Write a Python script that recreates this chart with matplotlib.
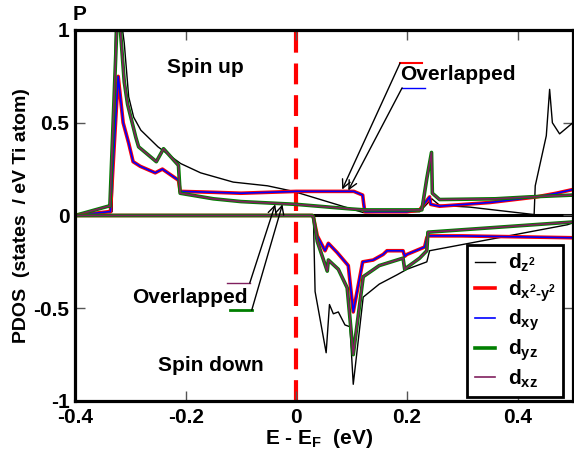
import matplotlib
matplotlib.use('Agg')
import matplotlib.pyplot as plt
from matplotlib.lines import Line2D

plt.rcParams['font.family'] = ['Liberation Sans', 'DejaVu Sans']
plt.rcParams['font.weight'] = 'bold'
plt.rcParams['axes.labelweight'] = 'bold'
plt.rcParams['font.size'] = 15
plt.rcParams['mathtext.fontset'] = 'custom'
plt.rcParams['mathtext.rm'] = 'Liberation Sans:bold'
plt.rcParams['mathtext.bf'] = 'Liberation Sans:bold'
plt.rcParams['mathtext.it'] = 'Liberation Sans:bold'

# ---- spin up ----
# d_x2-y2 and d_xy overlap
up_xy_x = [-0.4, -0.34, -0.336, -0.322, -0.313, -0.303, -0.295, -0.282, -0.255, -0.242, -0.213,
           -0.21, -0.15, -0.1, 0.0, 0.08, 0.104, 0.12, 0.122, 0.124, 0.2, 0.223, 0.241, 0.243,
           0.259, 0.35, 0.434, 0.47, 0.5]
up_xy_y = [0.0, 0.02, 0.02, 0.75, 0.50, 0.39, 0.29, 0.265, 0.23, 0.25, 0.19,
           0.13, 0.125, 0.12, 0.13, 0.13, 0.13, 0.11, 0.06, 0.02, 0.02, 0.03, 0.10, 0.06,
           0.05, 0.07, 0.10, 0.12, 0.14]
# d_yz and d_xz overlap
up_yz_x = [-0.4, -0.34, -0.337, -0.322, -0.318, -0.311, -0.305, -0.29, -0.285, -0.253, -0.24,
           -0.213, -0.21, -0.15, -0.1, 0.0, 0.1, 0.124, 0.227, 0.236, 0.2445, 0.246, 0.259,
           0.36, 0.42, 0.5]
up_yz_y = [0.0, 0.05, 0.05, 1.2, 1.0, 0.72, 0.60, 0.42, 0.37, 0.29, 0.36,
           0.27, 0.12, 0.09, 0.075, 0.06, 0.035, 0.03, 0.03, 0.20, 0.34, 0.12, 0.086,
           0.09, 0.10, 0.11]
# d_z2
up_z2_x = [-0.4, -0.34, -0.333, -0.325, -0.314, -0.311, -0.303, -0.294, -0.281, -0.25, -0.209,
           -0.173, -0.114, -0.052, -0.005, 0.121, 0.223, 0.245, 0.259, 0.314, 0.43, 0.432,
           0.452, 0.458, 0.463, 0.476, 0.5]
up_z2_y = [0.0, 0.02, 0.02, 1.3, 1.0, 0.93, 0.64, 0.53, 0.46, 0.37, 0.28,
           0.23, 0.18, 0.16, 0.13, 0.016, 0.02, 0.09, 0.055, 0.045, 0.005, 0.16,
           0.43, 0.68, 0.50, 0.44, 0.50]

# ---- spin down ----
dn_xy_x = [-0.4, 0.029, 0.031, 0.038, 0.052, 0.058, 0.074, 0.094, 0.103, 0.12, 0.139, 0.157,
           0.164, 0.193, 0.196, 0.2, 0.232, 0.236, 0.238, 0.3, 0.4, 0.5]
dn_xy_y = [0.0, 0.0, -0.01, -0.11, -0.19, -0.15, -0.20, -0.27, -0.52, -0.25, -0.24, -0.21,
           -0.19, -0.19, -0.22, -0.21, -0.17, -0.12, -0.11, -0.11, -0.115, -0.12]
dn_yz_x = [-0.4, 0.029, 0.031, 0.038, 0.056, 0.058, 0.076, 0.092, 0.103, 0.121, 0.15, 0.193,
           0.196, 0.2, 0.223, 0.236, 0.238, 0.5]
dn_yz_y = [0.0, 0.0, -0.01, -0.14, -0.30, -0.24, -0.29, -0.39, -0.75, -0.33, -0.27, -0.23,
           -0.29, -0.28, -0.23, -0.19, -0.09, -0.035]
dn_z2_x = [-0.4, 0.029, 0.031, 0.034, 0.054, 0.06, 0.067, 0.076, 0.088, 0.097, 0.103, 0.121,
           0.15, 0.182, 0.2, 0.236, 0.241, 0.49, 0.5]
dn_z2_y = [0.0, 0.0, -0.01, -0.41, -0.74, -0.48, -0.53, -0.52, -0.59, -0.60, -0.91, -0.44,
           -0.37, -0.32, -0.29, -0.25, -0.19, -0.05, -0.04]

xticks = [-0.4, -0.2, 0, 0.2, 0.4]
xticklabels = ['-0.4', '-0.2', '0', '0.2', '0.4']
yticks = [-1, -0.5, 0, 0.5, 1]
yticklabels = ['-1', '-0.5', '0', '0.5', '1']

fig = plt.figure(figsize=(5.74, 4.58), dpi=100)
ax = fig.add_axes([0.1307, 0.1245, 0.8673, 0.81])

ax.axvline(0, color='#ff0000', lw=3, ls=(0, (5, 2.6)), zorder=1)
ax.axhline(0, color='black', lw=2.2, zorder=1)

ax.plot(up_z2_x, up_z2_y, color='black', lw=1.0, label=r'$\mathbf{d_{z^2}}$')
ax.plot(up_xy_x, up_xy_y, color='#ff0000', lw=2.6, label=r'$\mathbf{d_{x^2\text{-}y^2}}$')
ax.plot(up_xy_x, up_xy_y, color='#0000ff', lw=1.2, label=r'$\mathbf{d_{xy}}$')
ax.plot(up_yz_x, up_yz_y, color='#007f00', lw=2.6, label=r'$\mathbf{d_{yz}}$')
ax.plot(up_yz_x, up_yz_y, color='#80205f', lw=1.2, label=r'$\mathbf{d_{xz}}$')

ax.plot(dn_z2_x, dn_z2_y, color='black', lw=1.0)
ax.plot(dn_xy_x, dn_xy_y, color='#ff0000', lw=2.6)
ax.plot(dn_xy_x, dn_xy_y, color='#0000ff', lw=1.2)
ax.plot(dn_yz_x, dn_yz_y, color='#007f00', lw=2.6)
ax.plot(dn_yz_x, dn_yz_y, color='#80205f', lw=1.2)

ax.set_xlim(-0.4, 0.5)
ax.set_ylim(-1, 1)
ax.set_xticks(xticks)
ax.set_xticklabels(xticklabels)
ax.set_yticks(yticks)
ax.set_yticklabels(yticklabels)
ax.tick_params(direction='in', length=7, width=1, color='#555555', top=True, right=True)
ax.tick_params(axis='x', pad=5)
ax.tick_params(axis='y', pad=4)
for s in ax.spines.values():
    s.set_linewidth(2.3)

ax.set_xlabel(r'E - E$_\mathbf{F}$  (eV)')
ax.xaxis.set_label_coords(0.49, -0.07)
ax.set_ylabel('PDOS  (states  / eV Ti atom)', fontsize=14)
ax.yaxis.set_label_coords(-0.09, 0.5)

ax.text(-0.164, 0.80, 'Spin up', ha='center', va='center')
ax.text(-0.155, -0.81, 'Spin down', ha='center', va='center')
fig.text(0.139, 0.969, 'P', ha='center', va='center')

# annotation: overlapped (spin up)
ax.text(0.769, 0.879, 'Overlapped', transform=ax.transAxes, ha='center', va='center')
ax.add_line(Line2D([0.653, 0.697], [0.911, 0.911], color='#ff0000', lw=1.5, transform=ax.transAxes))
ax.add_line(Line2D([0.657, 0.703], [0.844, 0.844], color='#0000ff', lw=1.0, transform=ax.transAxes))
arr = dict(arrowstyle='->', color='black', lw=1.0, shrinkA=0, shrinkB=0)
ax.annotate('', xy=(0.083, 0.14), xytext=(0.653, 0.911), textcoords='axes fraction', arrowprops=arr)
ax.annotate('', xy=(0.094, 0.135), xytext=(0.657, 0.844), textcoords='axes fraction', arrowprops=arr)

# annotation: overlapped (spin down)
ax.text(0.231, 0.280, 'Overlapped', transform=ax.transAxes, ha='center', va='center')
ax.add_line(Line2D([0.305, 0.351], [0.318, 0.318], color='#80205f', lw=1.0, transform=ax.transAxes))
ax.add_line(Line2D([0.311, 0.355], [0.245, 0.245], color='#007f00', lw=2.0, transform=ax.transAxes))
ax.annotate('', xy=(-0.038, 0.06), xytext=(0.351, 0.318), textcoords='axes fraction', arrowprops=arr)
ax.annotate('', xy=(-0.025, 0.06), xytext=(0.355, 0.245), textcoords='axes fraction', arrowprops=arr)

leg = ax.legend(loc='lower right', bbox_to_anchor=(0.98, 0.011), borderaxespad=0,
                fancybox=False, handlelength=1.0, handletextpad=0.6, labelspacing=0.2,
                borderpad=0.35, fontsize=15)
leg.get_frame().set_edgecolor('black')
leg.get_frame().set_linewidth(2.0)
leg.get_frame().set_alpha(1)

fig.savefig('out.png', dpi=100)
